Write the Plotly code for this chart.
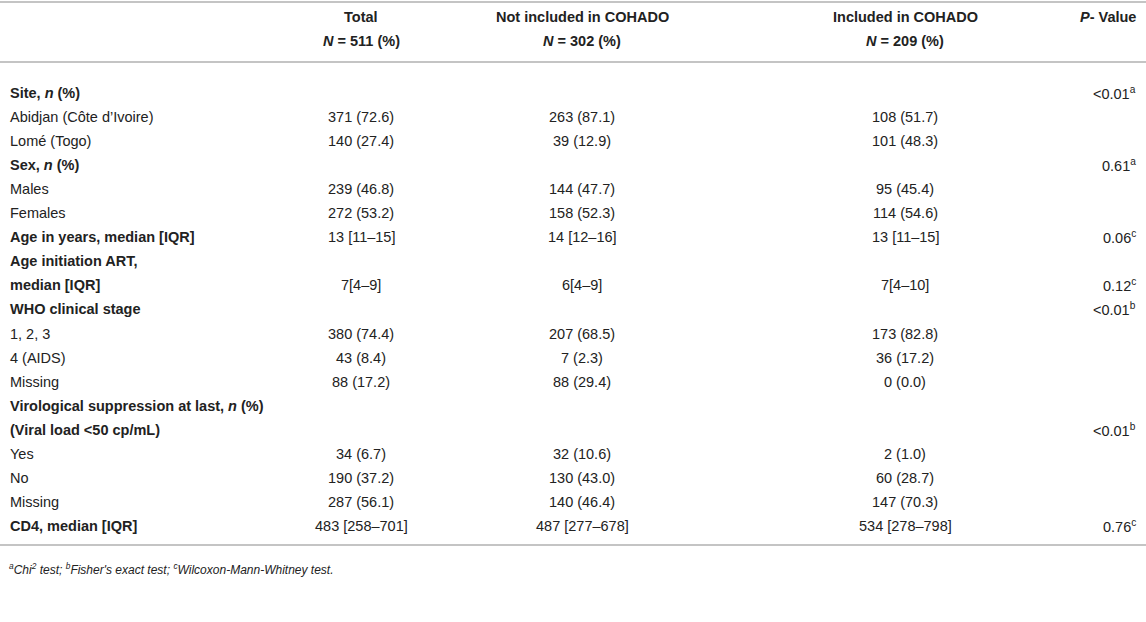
import plotly.graph_objects as go

# ── DATA ────────────────────────────────────────────────────
header_top = ["Total", "Not included in COHADO", "Included in COHADO", "<i>P</i>- Value"]
header_n = ["<i>N</i> = 511 (%)", "<i>N</i> = 302 (%)", "<i>N</i> = 209 (%)", ""]

row_labels = [
    "Site, <i>n</i> (%)",
    "Abidjan (Côte d’Ivoire)",
    "Lomé (Togo)",
    "Sex, <i>n</i> (%)",
    "Males",
    "Females",
    "Age in years, median [IQR]",
    "Age initiation ART,",
    "median [IQR]",
    "WHO clinical stage",
    "1, 2, 3",
    "4 (AIDS)",
    "Missing",
    "Virological suppression at last, <i>n</i> (%)",
    "(Viral load &lt;50 cp/mL)",
    "Yes",
    "No",
    "Missing",
    "CD4, median [IQR]",
]
row_bold = [1, 0, 0, 1, 0, 0, 1, 1, 1, 1, 0, 0, 0, 1, 1, 0, 0, 0, 1]

total = ["", "371 (72.6)", "140 (27.4)", "", "239 (46.8)", "272 (53.2)",
         "13 [11–15]", "", "7[4–9]", "", "380 (74.4)", "43 (8.4)", "88 (17.2)",
         "", "", "34 (6.7)", "190 (37.2)", "287 (56.1)", "483 [258–701]"]
not_included = ["", "263 (87.1)", "39 (12.9)", "", "144 (47.7)", "158 (52.3)",
                "14 [12–16]", "", "6[4–9]", "", "207 (68.5)", "7 (2.3)", "88 (29.4)",
                "", "", "32 (10.6)", "130 (43.0)", "140 (46.4)", "487 [277–678]"]
included = ["", "108 (51.7)", "101 (48.3)", "", "95 (45.4)", "114 (54.6)",
            "13 [11–15]", "", "7[4–10]", "", "173 (82.8)", "36 (17.2)", "0 (0.0)",
            "", "", "2 (1.0)", "60 (28.7)", "147 (70.3)", "534 [278–798]"]
p_values = ["&lt;0.01<sup>a</sup>", "", "", "0.61<sup>a</sup>", "", "",
            "0.06<sup>c</sup>", "", "0.12<sup>c</sup>", "&lt;0.01<sup>b</sup>", "", "", "",
            "", "&lt;0.01<sup>b</sup>", "", "", "", "0.76<sup>c</sup>"]

footnote = ("<i><sup>a</sup>Chi<sup>2</sup> test; <sup>b</sup>Fisher's exact test; "
            "<sup>c</sup>Wilcoxon-Mann-Whitney test.</i>")

# ── LAYOUT CONSTANTS ────────────────────────────────────────
W, H = 1146, 622
FONT = "Liberation Sans, Arial, Helvetica, sans-serif"
TXT = "#222222"
RULE = "#b0b0b0"
FS = 14.5

x_label = 8
col_x = [361, 582, 905, 1138]          # centres, last one is right edge
col_anchor = ["center", "center", "center", "right"]

y_head1, y_head2 = 17, 41
y_rule_top, y_rule_head, y_rule_bot = 2, 62, 545
y_first, pitch = 93, 24.05
y_foot = 569

fig = go.Figure()
fig.add_trace(go.Scatter(x=[0, W], y=[0, H], mode="markers",
                         marker=dict(opacity=0), hoverinfo="skip", showlegend=False))

ann = []


def add_text(x, y, text, anchor="left", size=FS):
    ann.append(dict(x=x, y=y, xref="x", yref="y", text=text, showarrow=False,
                    xanchor=anchor, yanchor="middle",
                    font=dict(family=FONT, size=size, color=TXT)))


# header
for j in range(4):
    add_text(col_x[j], y_head1, "<b>" + header_top[j] + "</b>", col_anchor[j])
    if header_n[j]:
        add_text(col_x[j], y_head2, "<b>" + header_n[j] + "</b>", col_anchor[j])

# body
columns = [total, not_included, included, p_values]
for i, lab in enumerate(row_labels):
    y = y_first + pitch * i
    add_text(x_label, y, "<b>" + lab + "</b>" if row_bold[i] else lab)
    for j, col in enumerate(columns):
        if col[i]:
            add_text(col_x[j], y, col[i], col_anchor[j])

add_text(x_label - 1, y_foot, footnote, size=12)

for yy in [y_rule_top, y_rule_head, y_rule_bot]:
    fig.add_shape(type="line", xref="x", yref="y", x0=0, x1=W, y0=yy, y1=yy,
                  line=dict(color=RULE, width=1.6))

fig.update_layout(
    width=W, height=H,
    margin=dict(l=0, r=0, t=0, b=0),
    paper_bgcolor="white", plot_bgcolor="white",
    annotations=ann,
    xaxis=dict(range=[0, W], visible=False, fixedrange=True),
    yaxis=dict(range=[H, 0], visible=False, fixedrange=True),
)

# page body has an 8px default margin; drop it so the figure sits at 0,0
fig.write_html("out.html", config={"displayModeBar": False},
               post_script="document.body.style.margin='0';")
